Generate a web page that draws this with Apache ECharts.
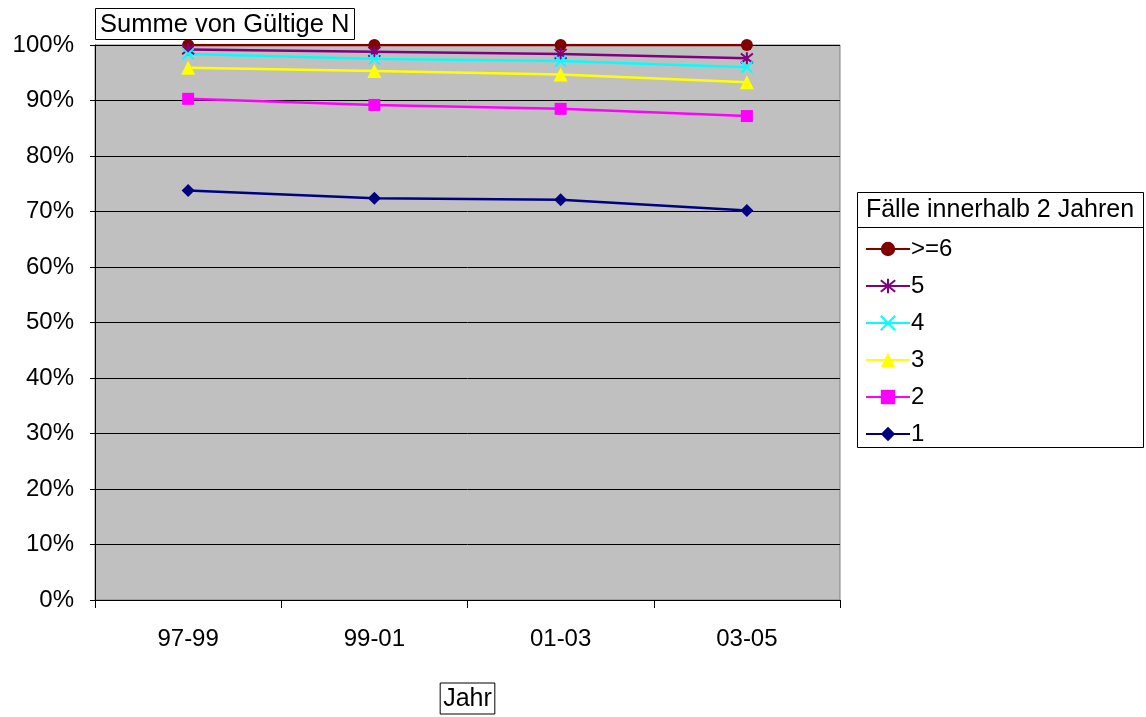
<!DOCTYPE html>
<html>
<head>
<meta charset="utf-8">
<title>Summe von Gültige N</title>
<script src="https://cdn.jsdelivr.net/npm/echarts@6/dist/echarts.min.js"></script>
<style>
  html, body { margin: 0; padding: 0; background: #ffffff; }
  #chart { width: 1146px; height: 717px; }
</style>
</head>
<body>
<div id="chart"></div>
<script>
// Zeiträume (x-Achse)
const categories = ['97-99', '99-01', '01-03', '03-05'];
// Kumulierte Anteile in Prozent je Anzahl Fälle innerhalb 2 Jahren
const seriesNames = ['>=6', '5', '4', '3', '2', '1'];
const valuesGe6 = [100, 100, 100, 100];
const values5 = [99.2, 98.8, 98.4, 97.6];
const values4 = [98.4, 97.5, 97.1, 96.0];
const values3 = [95.9, 95.3, 94.7, 93.3];
const values2 = [90.3, 89.2, 88.5, 87.2];
const values1 = [73.8, 72.4, 72.1, 70.2];
// Beschriftung der y-Achse
const yTicks = [0, 10, 20, 30, 40, 50, 60, 70, 80, 90, 100];

const FONT = '"Liberation Sans", Arial, sans-serif';

const ASTERISK = 'path://M1,1L9,9M9,1L1,9M5,0L5,10';
const CROSS = 'path://M0,0L10,10M10,0L0,10';

function lineSeries(name, data, color, symbol, size, stroked) {
  return {
    name: name,
    type: 'line',
    data: data,
    symbol: symbol,
    symbolSize: size,
    showAllSymbol: true,
    lineStyle: { color: color, width: 2.5 },
    itemStyle: stroked
      ? { color: 'rgba(0,0,0,0)', borderColor: color, borderWidth: 2 }
      : { color: color, borderWidth: 0 },
    emphasis: { disabled: true },
    z: 3
  };
}

const chart = echarts.init(document.getElementById('chart'), null, { renderer: 'canvas' });

chart.setOption({
  animation: false,
  backgroundColor: '#ffffff',
  title: {
    text: 'Summe von Gültige N',
    left: 95,
    top: 8,
    padding: [3, 5, 2, 5],
    borderColor: '#000000',
    borderWidth: 1,
    backgroundColor: '#ffffff',
    textStyle: { fontFamily: FONT, fontSize: 25.5, fontWeight: 'normal', color: '#000000', lineHeight: 27 }
  },
  grid: {
    left: 95,
    right: 306,
    top: 45,
    bottom: 117,
    outerBoundsMode: 'none',
    containLabel: false,
    show: true,
    backgroundColor: '#c0c0c0',
    borderColor: '#808080',
    borderWidth: 1
  },
  legend: {
    orient: 'vertical',
    left: 865,
    top: 237,
    padding: 0,
    itemWidth: 44,
    itemHeight: 18,
    itemGap: 13,
    data: seriesNames,
    selectedMode: false,
    textStyle: { fontFamily: FONT, fontSize: 24, color: '#000000', lineHeight: 24, padding: [0, 0, 0, -4] }
  },
  xAxis: {
    type: 'category',
    data: categories,
    boundaryGap: true,
    axisLine: { show: true, lineStyle: { color: '#000000', width: 1 } },
    axisTick: { show: true, length: 8, lineStyle: { color: '#000000' } },
    axisLabel: { margin: 27, fontFamily: FONT, fontSize: 24, color: '#000000' },
    splitLine: { show: false },
    name: 'Jahr',
    nameLocation: 'middle',
    nameGap: 83,
    nameTextStyle: {
      fontFamily: FONT, fontSize: 25, color: '#000000',
      borderColor: '#000000', borderWidth: 1, padding: [3, 3, 2, 3],
      verticalAlign: 'top', lineHeight: 26
    }
  },
  yAxis: {
    type: 'value',
    min: 0,
    max: 100,
    interval: 10,
    axisLine: { show: true, lineStyle: { color: '#000000', width: 1 } },
    axisTick: { show: true, length: 5, lineStyle: { color: '#000000' } },
    axisLabel: {
      margin: 21, fontFamily: FONT, fontSize: 24, color: '#000000',
      formatter: function (v) { return yTicks.indexOf(v) >= 0 ? v + '%' : ''; }
    },
    splitLine: { show: true, lineStyle: { color: '#000000', width: 1 } }
  },
  graphic: [
    {
      type: 'rect',
      shape: { x: 857.5, y: 192.5, width: 286, height: 255 },
      style: { fill: '#ffffff', stroke: '#000000', lineWidth: 1 },
      z: -1
    },
    {
      type: 'line',
      shape: { x1: 857.5, y1: 227.5, x2: 1143.5, y2: 227.5 },
      style: { stroke: '#000000', lineWidth: 1 },
      z: 1
    },
    {
      type: 'text',
      x: 1000,
      y: 210,
      style: {
        text: 'Fälle innerhalb 2 Jahren',
        fontFamily: FONT, fontSize: 25, fill: '#000000',
        align: 'center', verticalAlign: 'middle'
      },
      z: 1
    }
  ],
  series: [
    lineSeries('>=6', valuesGe6, '#800000', 'circle', 12, false),
    lineSeries('5', values5, '#800080', ASTERISK, 12, true),
    lineSeries('4', values4, '#00ffff', CROSS, 11, true),
    lineSeries('3', values3, '#ffff00', 'triangle', 14, false),
    lineSeries('2', values2, '#ff00ff', 'rect', 12, false),
    lineSeries('1', values1, '#000080', 'diamond', 13, false)
  ]
});
</script>
</body>
</html>
